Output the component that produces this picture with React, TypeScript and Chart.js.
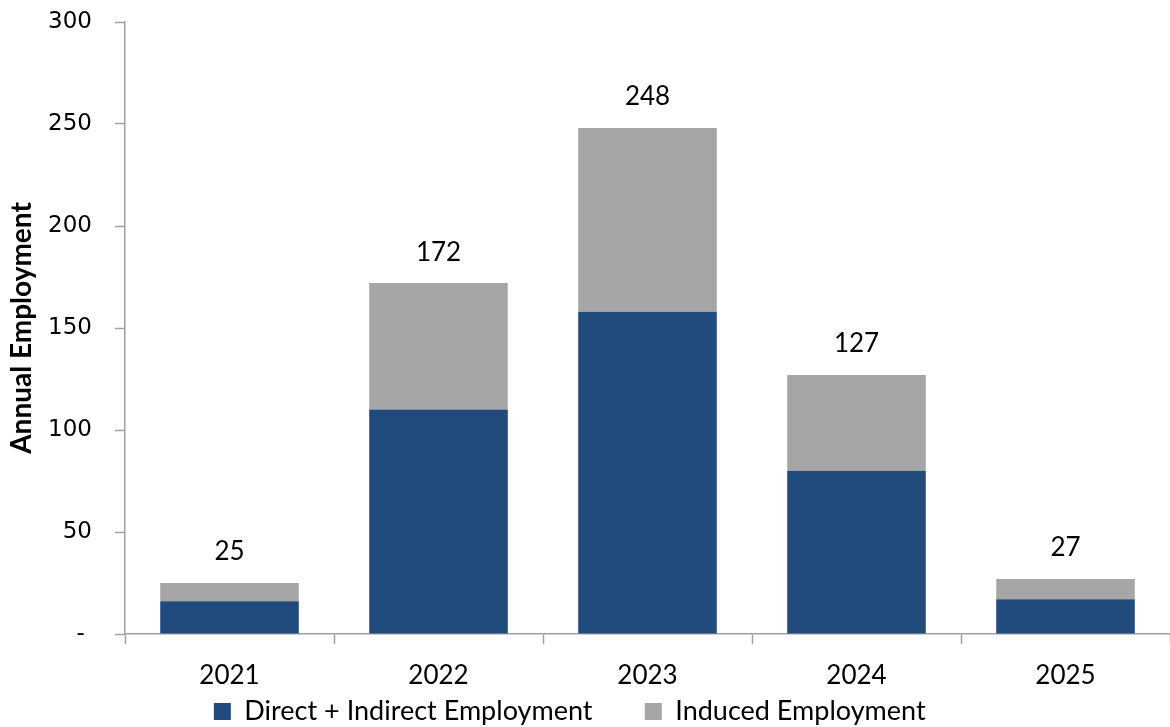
import React, { useEffect, useRef } from "react";
import { Chart, registerables } from "chart.js";

Chart.register(...registerables);

const years = ["2021", "2022", "2023", "2024", "2025"];
const directIndirect = [16, 110, 158, 80, 17];
const induced = [9, 62, 90, 47, 10];
const yTicks = [0, 50, 100, 150, 200, 250, 300];
const seriesNames = ["Direct + Indirect Employment", "Induced Employment"];
const yTitle = "Annual Employment";

const NAVY = "#214A7D";
const GRAY = "#A6A6A6";
const AXIS = "#A0A0A0";
const LABEL_FONT = "Lato";

const totalsPlugin = {
  id: "totals",
  afterDatasetsDraw(chart: any) {
    const ctx = chart.ctx;
    const top = chart.getDatasetMeta(chart.data.datasets.length - 1);
    ctx.save();
    ctx.font = `26px ${LABEL_FONT}`;
    ctx.fillStyle = "#000";
    ctx.textAlign = "center";
    ctx.textBaseline = "middle";
    top.data.forEach((bar: any, i: number) => {
      const total = chart.data.datasets.reduce((s: number, d: any) => s + d.data[i], 0);
      ctx.fillText(String(total), bar.x, bar.y - 31);
    });
    ctx.restore();
  },
};

export default function App() {
  const ref = useRef<HTMLCanvasElement>(null);
  useEffect(() => {
    if (!ref.current) return;
    const chart = new Chart(ref.current, {
      type: "bar",
      data: {
        labels: years,
        datasets: [
          {
            label: seriesNames[0] + "       ",
            data: directIndirect,
            backgroundColor: NAVY,
            borderWidth: 0,
            categoryPercentage: 1,
            barPercentage: 0.663,
          },
          {
            label: seriesNames[1] + "     ",
            data: induced,
            backgroundColor: GRAY,
            borderWidth: 0,
            categoryPercentage: 1,
            barPercentage: 0.663,
          },
        ],
      },
      options: {
        animation: false,
        responsive: true,
        maintainAspectRatio: false,
        layout: { padding: { top: 22, right: -4, left: 0, bottom: -8 } },
        plugins: {
          legend: {
            position: "bottom",
            labels: {
              boxWidth: 17,
              boxHeight: 17,
              padding: 4,
              color: "#000",
              font: { family: LABEL_FONT, size: 27 },
            },
          },
          tooltip: { enabled: false },
        },
        scales: {
          x: {
            stacked: true,
            grid: { drawOnChartArea: false, offset: true, color: AXIS, tickLength: 10, tickWidth: 1.5 },
            border: { color: AXIS, width: 1.5 },
            ticks: { color: "#000", padding: 16, font: { family: LABEL_FONT, size: 26 } },
            afterFit: (s: any) => { s.height = 60; },
          },
          y: {
            stacked: true,
            min: 0,
            max: 300,
            afterBuildTicks: (s: any) => { s.ticks = yTicks.map((v) => ({ value: v })); },
            grid: { drawOnChartArea: false, color: AXIS, tickLength: 10, tickWidth: 1.5 },
            border: { color: AXIS, width: 1.5 },
            ticks: {
              color: "#000",
              padding: 23,
              font: { family: "DejaVu Sans", size: 23 },
              callback: (v: any) => (Number(v) === 0 ? "- " : String(v)),
            },
            title: {
              display: true,
              text: yTitle,
              color: "#000",
              font: { family: LABEL_FONT, size: 28, weight: "bold" },
              padding: { top: 5, bottom: 0 },
            },
            afterFit: (s: any) => {
              s.width = 125;
              s.paddingTop = 0;
              s.paddingBottom = 0;
            },
          },
        },
      },
      plugins: [totalsPlugin],
    });
    return () => chart.destroy();
  }, []);
  return (
    <div style={{ position: "absolute", left: 0, top: 0, width: 1170, height: 727 }}>
      <canvas ref={ref} />
    </div>
  );
}
